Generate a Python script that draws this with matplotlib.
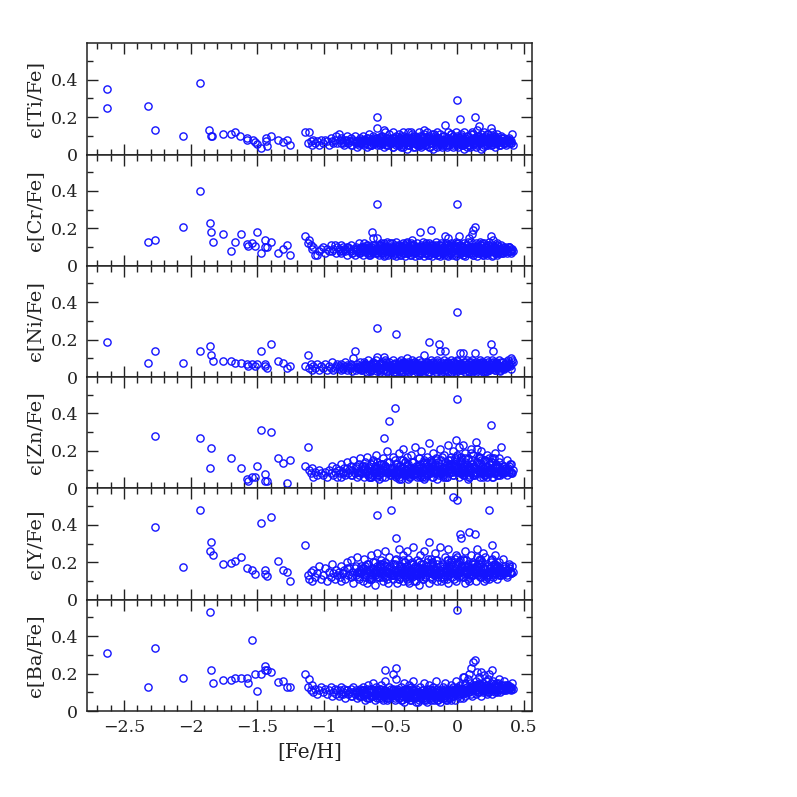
import numpy as np
import matplotlib
matplotlib.use("Agg")
import matplotlib.pyplot as plt
from matplotlib.ticker import MultipleLocator, FixedLocator, FixedFormatter

plt.rcParams['font.family'] = ['DejaVu Serif']

# ---------------- data ----------------
panel_labels = ["ϵ[Ti/Fe]", "ϵ[Cr/Fe]", "ϵ[Ni/Fe]", "ϵ[Zn/Fe]", "ϵ[Y/Fe]", "ϵ[Ba/Fe]"]
xtick_vals = [-2.5, -2.0, -1.5, -1.0, -0.5, 0.0, 0.5]
xtick_labels = ["\u22122.5", "\u22122", "\u22121.5", "\u22121", "\u22120.5", "0", "0.5"]
ytick_vals = [0.0, 0.2, 0.4]
ytick_labels = ["0", "0.2", "0.4"]

# metal-rich (dense) stars, shared [Fe/H]
feh_dense = [
    -1.14,-1.12,-1.11,-1.10,-1.09,-1.08,-1.07,-1.05,-1.04,-1.02,
    -1.01,-0.99,-0.98,-0.96,-0.95,-0.94,-0.93,-0.92,-0.91,-0.90,
    -0.89,-0.88,-0.87,-0.87,-0.86,-0.85,-0.84,-0.83,-0.82,-0.81,
    -0.80,-0.80,-0.79,-0.78,-0.77,-0.76,-0.75,-0.74,-0.73,-0.73,
    -0.72,-0.71,-0.70,-0.70,-0.69,-0.68,-0.68,-0.67,-0.66,-0.65,
    -0.65,-0.64,-0.63,-0.62,-0.62,-0.61,-0.60,-0.60,-0.59,-0.58,
    -0.57,-0.57,-0.56,-0.55,-0.54,-0.54,-0.53,-0.52,-0.51,-0.51,
    -0.50,-0.49,-0.48,-0.48,-0.47,-0.46,-0.46,-0.45,-0.44,-0.44,
    -0.43,-0.42,-0.42,-0.41,-0.41,-0.40,-0.40,-0.39,-0.38,-0.38,
    -0.37,-0.37,-0.36,-0.35,-0.35,-0.34,-0.33,-0.33,-0.32,-0.31,
    -0.31,-0.30,-0.29,-0.29,-0.28,-0.27,-0.27,-0.26,-0.25,-0.25,
    -0.24,-0.23,-0.23,-0.22,-0.21,-0.21,-0.20,-0.19,-0.19,-0.18,
    -0.17,-0.17,-0.16,-0.15,-0.15,-0.14,-0.13,-0.13,-0.12,-0.11,
    -0.11,-0.10,-0.09,-0.09,-0.08,-0.07,-0.07,-0.06,-0.05,-0.05,
    -0.04,-0.03,-0.03,-0.02,-0.01,-0.01, 0.00, 0.00, 0.01, 0.02,
     0.02, 0.03, 0.04, 0.04, 0.05, 0.06, 0.06, 0.07, 0.08, 0.08,
     0.09, 0.10, 0.10, 0.11, 0.12, 0.12, 0.13, 0.14, 0.14, 0.15,
     0.16, 0.16, 0.17, 0.18, 0.18, 0.19, 0.20, 0.20, 0.21, 0.22,
     0.22, 0.23, 0.24, 0.24, 0.25, 0.26, 0.26, 0.27, 0.28, 0.28,
     0.29, 0.30, 0.30, 0.31, 0.32, 0.33, 0.34, 0.35, 0.36, 0.37,
     0.38, 0.39, 0.40, 0.41, 0.42, 0.05,-0.25,-0.55, 0.15,-0.35,
]
# second batch of dense-core stars
feh_core = [
    -0.755,-0.735,-0.715,-0.695,-0.675,-0.655,-0.645,-0.635,-0.615,-0.605,
    -0.585,-0.575,-0.565,-0.545,-0.535,-0.525,-0.505,-0.495,-0.485,-0.475,
    -0.465,-0.455,-0.445,-0.435,-0.425,-0.415,-0.405,-0.395,-0.385,-0.375,
    -0.365,-0.355,-0.345,-0.335,-0.325,-0.315,-0.305,-0.295,-0.285,-0.275,
    -0.265,-0.255,-0.245,-0.235,-0.225,-0.215,-0.205,-0.195,-0.185,-0.175,
    -0.165,-0.155,-0.145,-0.135,-0.125,-0.115,-0.105,-0.095,-0.085,-0.075,
    -0.065,-0.055,-0.045,-0.035,-0.025,-0.015,-0.005, 0.005, 0.015, 0.025,
     0.035, 0.045, 0.055, 0.065, 0.075, 0.085, 0.095, 0.105, 0.115, 0.125,
     0.135, 0.145, 0.155, 0.165, 0.175, 0.185, 0.195, 0.205, 0.215, 0.225,
     0.235, 0.245, 0.255, 0.265, 0.275, 0.285, 0.295, 0.305, 0.315, 0.325,
     0.335, 0.345, 0.355, 0.365, 0.375, 0.385, 0.395, 0.405,-0.30,-0.10,
    -0.62,-0.52,-0.42,-0.32,-0.22,-0.12,-0.02, 0.08, 0.18, 0.28,
    -0.58,-0.48,-0.38,-0.28,-0.18,-0.08, 0.03, 0.13, 0.23, 0.33,
    -0.66,-0.56,-0.46,-0.36,-0.26,-0.16,-0.06, 0.04, 0.14, 0.24,
    -0.50,-0.40,-0.30,-0.20,-0.10, 0.00, 0.10, 0.20, 0.30, 0.36,
]
# third batch
feh_extra = [
    -0.72,-0.69,-0.66,-0.63,-0.61,-0.59,-0.56,-0.53,-0.50,-0.47,
    -0.45,-0.43,-0.40,-0.37,-0.34,-0.32,-0.29,-0.26,-0.24,-0.21,
    -0.18,-0.16,-0.13,-0.10,-0.08,-0.05,-0.02, 0.01, 0.03, 0.06,
     0.09, 0.11, 0.14, 0.17, 0.19, 0.22, 0.25, 0.27, 0.30, 0.33,
    -0.70,-0.64,-0.57,-0.51,-0.44,-0.38,-0.31,-0.23,-0.17,-0.11,
    -0.04, 0.02, 0.07, 0.12, 0.16, 0.21, 0.26, 0.31, 0.35, 0.39,
    -0.68,-0.60,-0.54,-0.46,-0.39,-0.33,-0.27,-0.20,-0.14,-0.07,
    -0.01, 0.04, 0.09, 0.13, 0.18, 0.23, 0.28, 0.32, 0.37, 0.40,
    -0.86,-0.83,-0.79,-0.76,-0.74,-0.71,-0.65,-0.58,-0.49,-0.41,
    -0.35,-0.28,-0.19,-0.12,-0.06, 0.00, 0.05, 0.11, 0.20, 0.29,
]

ti_dense = [
    0.12,0.06,0.12,0.07,0.05,0.08,0.06,0.07,0.05,0.08,
    0.06,0.08,0.07,0.05,0.09,0.07,0.06,0.08,0.10,0.06,
    0.11,0.08,0.06,0.09,0.07,0.05,0.08,0.10,0.06,0.07,
    0.09,0.05,0.07,0.08,0.10,0.06,0.04,0.08,0.09,0.06,
    0.07,0.10,0.05,0.08,0.06,0.09,0.04,0.07,0.11,0.08,
    0.05,0.07,0.10,0.06,0.08,0.09,0.20,0.14,0.07,0.05,
    0.08,0.10,0.06,0.04,0.12,0.07,0.09,0.05,0.08,0.11,
    0.06,0.09,0.04,0.12,0.07,0.10,0.05,0.08,0.06,0.11,
    0.09,0.04,0.07,0.12,0.05,0.08,0.10,0.06,0.03,0.09,
    0.07,0.12,0.05,0.09,0.06,0.11,0.04,0.08,0.10,0.06,
    0.08,0.05,0.12,0.07,0.10,0.04,0.09,0.06,0.11,0.07,
    0.05,0.09,0.12,0.07,0.04,0.10,0.08,0.06,0.11,0.03,
    0.08,0.10,0.06,0.12,0.04,0.09,0.07,0.11,0.05,0.08,
    0.06,0.10,0.16,0.07,0.04,0.09,0.12,0.05,0.08,0.11,
    0.07,0.04,0.10,0.06,0.09,0.12,0.29,0.05,0.08,0.19,
    0.07,0.11,0.05,0.09,0.12,0.06,0.08,0.04,0.10,0.07,
    0.05,0.11,0.08,0.12,0.06,0.09,0.20,0.07,0.04,0.10,
    0.15,0.08,0.06,0.11,0.03,0.09,0.12,0.07,0.10,0.05,
    0.08,0.11,0.06,0.09,0.14,0.12,0.05,0.10,0.07,0.04,
    0.09,0.06,0.11,0.08,0.05,0.10,0.07,0.09,0.06,0.08,
    0.07,0.09,0.06,0.11,0.05,0.03,0.13,0.13,0.13,0.12,
]
ti_core = [
    0.07,0.05,0.08,0.06,0.09,0.07,0.05,0.08,0.06,0.09,
    0.08,0.06,0.10,0.07,0.05,0.09,0.06,0.08,0.04,0.07,
    0.09,0.06,0.08,0.05,0.10,0.07,0.04,0.08,0.06,0.09,
    0.05,0.08,0.07,0.10,0.06,0.04,0.09,0.07,0.05,0.08,
    0.10,0.06,0.08,0.05,0.07,0.09,0.04,0.06,0.08,0.11,
    0.07,0.05,0.09,0.06,0.08,0.04,0.10,0.07,0.05,0.09,
    0.06,0.08,0.11,0.05,0.07,0.09,0.06,0.04,0.08,0.10,
    0.05,0.07,0.09,0.06,0.10,0.08,0.04,0.07,0.11,0.06,
    0.09,0.05,0.07,0.10,0.06,0.08,0.04,0.09,0.07,0.11,
    0.06,0.08,0.05,0.09,0.07,0.10,0.06,0.08,0.05,0.07,
    0.09,0.06,0.08,0.05,0.07,0.06,0.08,0.07,0.08,0.07,
    0.07,0.08,0.06,0.09,0.07,0.06,0.08,0.07,0.09,0.06,
    0.06,0.07,0.09,0.06,0.08,0.07,0.06,0.08,0.07,0.09,
    0.08,0.06,0.07,0.08,0.06,0.09,0.07,0.05,0.08,0.07,
    0.07,0.09,0.06,0.08,0.07,0.06,0.08,0.09,0.07,0.06,
]
ti_extra = [
    0.06,0.08,0.05,0.09,0.07,0.06,0.08,0.05,0.07,0.09,
    0.06,0.08,0.07,0.05,0.09,0.06,0.08,0.07,0.05,0.08,
    0.07,0.09,0.06,0.08,0.05,0.07,0.09,0.06,0.08,0.07,
    0.05,0.08,0.06,0.09,0.07,0.05,0.08,0.06,0.09,0.07,
    0.08,0.06,0.09,0.07,0.05,0.08,0.06,0.09,0.07,0.05,
    0.06,0.09,0.07,0.05,0.08,0.06,0.09,0.07,0.06,0.08,
    0.07,0.05,0.08,0.06,0.09,0.07,0.05,0.08,0.06,0.09,
    0.08,0.06,0.05,0.07,0.09,0.06,0.08,0.05,0.07,0.06,
    0.06,0.08,0.05,0.07,0.06,0.08,0.05,0.09,0.06,0.08,
    0.07,0.05,0.09,0.06,0.08,0.10,0.06,0.08,0.05,0.07,
]
cr_dense = [
    0.16,0.12,0.14,0.11,0.09,0.10,0.06,0.06,0.08,0.09,
    0.10,0.07,0.09,0.08,0.11,0.08,0.09,0.11,0.07,0.10,
    0.09,0.08,0.11,0.07,0.10,0.09,0.08,0.06,0.10,0.09,
    0.08,0.11,0.07,0.09,0.06,0.10,0.08,0.12,0.07,0.09,
    0.10,0.06,0.09,0.12,0.08,0.07,0.11,0.09,0.06,0.10,
    0.08,0.18,0.15,0.07,0.11,0.09,0.33,0.15,0.06,0.10,
    0.12,0.07,0.09,0.05,0.11,0.08,0.13,0.06,0.10,0.08,
    0.09,0.12,0.06,0.10,0.07,0.13,0.05,0.09,0.11,0.08,
    0.06,0.10,0.08,0.12,0.07,0.09,0.11,0.05,0.13,0.08,
    0.10,0.07,0.09,0.12,0.06,0.14,0.08,0.11,0.05,0.10,
    0.08,0.12,0.06,0.09,0.18,0.10,0.07,0.13,0.05,0.09,
    0.11,0.07,0.10,0.06,0.12,0.08,0.19,0.09,0.05,0.11,
    0.07,0.10,0.13,0.06,0.09,0.11,0.05,0.08,0.12,0.07,
    0.09,0.06,0.16,0.11,0.08,0.15,0.05,0.10,0.07,0.12,
    0.06,0.09,0.11,0.07,0.13,0.05,0.10,0.33,0.16,0.08,
    0.11,0.07,0.10,0.06,0.12,0.09,0.05,0.11,0.08,0.13,
    0.15,0.07,0.10,0.17,0.06,0.19,0.21,0.09,0.12,0.05,
    0.10,0.07,0.13,0.08,0.11,0.06,0.09,0.12,0.07,0.10,
    0.06,0.11,0.09,0.13,0.16,0.08,0.05,0.14,0.10,0.07,
    0.09,0.12,0.06,0.10,0.08,0.11,0.07,0.09,0.10,0.08,
    0.08,0.10,0.07,0.09,0.08,0.10,0.08,0.12,0.09,0.11,
]
cr_core = [
    0.09,0.07,0.10,0.08,0.11,0.06,0.09,0.08,0.10,0.07,
    0.11,0.08,0.09,0.06,0.10,0.08,0.12,0.07,0.09,0.10,
    0.07,0.10,0.08,0.11,0.06,0.09,0.10,0.07,0.12,0.08,
    0.10,0.06,0.09,0.08,0.11,0.07,0.10,0.09,0.06,0.11,
    0.08,0.10,0.07,0.12,0.09,0.06,0.08,0.11,0.07,0.09,
    0.10,0.08,0.06,0.09,0.11,0.07,0.10,0.08,0.12,0.06,
    0.09,0.11,0.07,0.08,0.10,0.06,0.09,0.12,0.08,0.07,
    0.10,0.06,0.09,0.11,0.07,0.08,0.10,0.13,0.06,0.09,
    0.08,0.11,0.07,0.10,0.09,0.12,0.06,0.08,0.10,0.07,
    0.11,0.08,0.09,0.06,0.10,0.08,0.11,0.07,0.09,0.08,
    0.07,0.10,0.08,0.09,0.07,0.10,0.08,0.09,0.09,0.08,
    0.08,0.09,0.10,0.07,0.09,0.08,0.10,0.09,0.07,0.10,
    0.09,0.08,0.07,0.10,0.08,0.09,0.07,0.10,0.08,0.09,
    0.10,0.07,0.09,0.08,0.10,0.07,0.09,0.08,0.10,0.08,
    0.08,0.10,0.09,0.07,0.08,0.10,0.09,0.08,0.07,0.09,
]
cr_extra = [
    0.08,0.10,0.07,0.11,0.09,0.08,0.10,0.07,0.09,0.11,
    0.08,0.10,0.09,0.07,0.11,0.08,0.10,0.09,0.07,0.10,
    0.09,0.11,0.08,0.10,0.07,0.09,0.11,0.08,0.10,0.09,
    0.07,0.10,0.08,0.11,0.09,0.07,0.10,0.08,0.11,0.09,
    0.10,0.08,0.11,0.09,0.07,0.10,0.08,0.11,0.09,0.07,
    0.08,0.11,0.09,0.07,0.10,0.08,0.11,0.09,0.08,0.10,
    0.09,0.07,0.10,0.08,0.11,0.09,0.07,0.10,0.08,0.11,
    0.10,0.08,0.07,0.09,0.11,0.08,0.10,0.07,0.09,0.08,
    0.08,0.10,0.07,0.09,0.08,0.10,0.07,0.11,0.08,0.10,
    0.09,0.07,0.11,0.08,0.10,0.12,0.08,0.10,0.07,0.09,
]
ni_dense = [
    0.06,0.12,0.05,0.07,0.04,0.06,0.05,0.07,0.04,0.06,
    0.05,0.07,0.04,0.06,0.05,0.08,0.04,0.05,0.06,0.07,
    0.05,0.06,0.04,0.07,0.05,0.06,0.08,0.04,0.05,0.06,
    0.07,0.05,0.06,0.10,0.14,0.04,0.07,0.05,0.08,0.06,
    0.04,0.06,0.08,0.05,0.07,0.03,0.06,0.09,0.05,0.07,
    0.04,0.06,0.08,0.05,0.07,0.09,0.26,0.11,0.05,0.03,
    0.07,0.05,0.08,0.04,0.06,0.09,0.03,0.07,0.05,0.08,
    0.06,0.04,0.09,0.05,0.07,0.23,0.03,0.06,0.08,0.05,
    0.07,0.04,0.09,0.06,0.03,0.08,0.05,0.07,0.10,0.04,
    0.06,0.08,0.03,0.07,0.05,0.09,0.04,0.06,0.08,0.05,
    0.07,0.04,0.09,0.06,0.03,0.08,0.05,0.07,0.04,0.12,
    0.05,0.08,0.06,0.03,0.07,0.19,0.09,0.04,0.06,0.08,
    0.05,0.07,0.03,0.09,0.06,0.175,0.14,0.04,0.08,0.05,
    0.07,0.09,0.14,0.04,0.06,0.08,0.03,0.07,0.05,0.09,
    0.06,0.04,0.08,0.05,0.07,0.03,0.09,0.35,0.06,0.13,
    0.04,0.07,0.13,0.05,0.08,0.06,0.03,0.09,0.05,0.07,
    0.08,0.04,0.06,0.09,0.05,0.07,0.13,0.03,0.08,0.06,
    0.07,0.05,0.09,0.04,0.06,0.08,0.05,0.07,0.03,0.09,
    0.06,0.08,0.04,0.07,0.175,0.05,0.09,0.14,0.06,0.04,
    0.08,0.05,0.07,0.09,0.04,0.06,0.08,0.05,0.07,0.06,
    0.09,0.07,0.10,0.09,0.08,0.05,0.06,0.11,0.07,0.06,
]
ni_core = [
    0.05,0.06,0.04,0.07,0.05,0.06,0.04,0.07,0.05,0.06,
    0.04,0.07,0.05,0.06,0.08,0.04,0.06,0.05,0.07,0.03,
    0.06,0.04,0.07,0.05,0.03,0.06,0.08,0.05,0.04,0.07,
    0.05,0.07,0.04,0.06,0.08,0.05,0.03,0.06,0.07,0.04,
    0.06,0.04,0.07,0.05,0.08,0.03,0.06,0.05,0.07,0.04,
    0.05,0.08,0.04,0.06,0.03,0.07,0.05,0.06,0.04,0.08,
    0.07,0.05,0.03,0.06,0.08,0.04,0.06,0.05,0.07,0.04,
    0.06,0.04,0.08,0.05,0.07,0.03,0.06,0.08,0.05,0.04,
    0.07,0.05,0.06,0.04,0.08,0.06,0.03,0.07,0.05,0.06,
    0.04,0.07,0.05,0.08,0.06,0.04,0.07,0.05,0.06,0.08,
    0.06,0.05,0.07,0.06,0.08,0.07,0.06,0.07,0.05,0.06,
    0.05,0.06,0.04,0.05,0.06,0.05,0.04,0.06,0.05,0.07,
    0.04,0.05,0.06,0.04,0.05,0.06,0.05,0.04,0.06,0.05,
    0.06,0.04,0.05,0.06,0.04,0.05,0.06,0.05,0.04,0.06,
    0.05,0.06,0.04,0.05,0.06,0.04,0.05,0.06,0.05,0.07,
]
ni_extra = [
    0.045,0.065,0.035,0.075,0.055,0.045,0.065,0.035,0.055,0.075,
    0.045,0.065,0.055,0.035,0.075,0.045,0.065,0.055,0.035,0.065,
    0.055,0.075,0.045,0.065,0.035,0.055,0.075,0.045,0.065,0.055,
    0.035,0.065,0.045,0.075,0.055,0.035,0.065,0.045,0.075,0.055,
    0.065,0.045,0.075,0.055,0.035,0.065,0.045,0.075,0.055,0.035,
    0.045,0.075,0.055,0.035,0.065,0.045,0.075,0.055,0.045,0.065,
    0.055,0.035,0.065,0.045,0.075,0.055,0.035,0.065,0.045,0.075,
    0.065,0.045,0.035,0.055,0.075,0.045,0.065,0.035,0.055,0.045,
    0.045,0.065,0.035,0.055,0.045,0.065,0.035,0.075,0.045,0.065,
    0.055,0.035,0.075,0.045,0.065,0.085,0.045,0.065,0.035,0.055,
]
zn_dense = [
    0.12,0.22,0.10,0.08,0.11,0.06,0.09,0.07,0.10,0.08,
    0.07,0.09,0.06,0.10,0.08,0.12,0.07,0.09,0.11,0.06,
    0.10,0.08,0.13,0.06,0.09,0.11,0.07,0.14,0.08,0.10,
    0.12,0.07,0.10,0.15,0.08,0.11,0.06,0.13,0.09,0.16,
    0.08,0.12,0.06,0.10,0.14,0.09,0.17,0.07,0.11,0.13,
    0.06,0.10,0.15,0.08,0.12,0.18,0.09,0.14,0.05,0.11,
    0.13,0.08,0.16,0.10,0.06,0.12,0.20,0.09,0.36,0.14,
    0.07,0.11,0.17,0.09,0.43,0.13,0.06,0.10,0.19,0.08,
    0.12,0.05,0.15,0.09,0.21,0.11,0.07,0.14,0.10,0.17,
    0.08,0.13,0.06,0.11,0.18,0.09,0.14,0.07,0.22,0.10,
    0.12,0.06,0.16,0.09,0.13,0.20,0.08,0.11,0.05,0.15,
    0.10,0.17,0.07,0.12,0.24,0.09,0.14,0.06,0.11,0.19,
    0.08,0.13,0.16,0.10,0.05,0.12,0.21,0.09,0.15,0.07,
    0.11,0.18,0.08,0.14,0.06,0.23,0.10,0.13,0.17,0.09,
    0.12,0.07,0.20,0.10,0.15,0.26,0.48,0.09,0.22,0.13,
    0.08,0.17,0.11,0.23,0.07,0.14,0.19,0.10,0.05,0.16,
    0.12,0.21,0.09,0.15,0.07,0.18,0.11,0.25,0.08,0.14,
    0.10,0.17,0.06,0.13,0.20,0.09,0.15,0.11,0.07,0.18,
    0.12,0.08,0.16,0.10,0.34,0.14,0.06,0.11,0.19,0.09,
    0.13,0.07,0.11,0.16,0.09,0.22,0.08,0.12,0.10,0.15,
    0.11,0.09,0.13,0.08,0.10,0.12,0.14,0.27,0.21,0.10,
]
zn_core = [
    0.09,0.07,0.12,0.08,0.10,0.06,0.13,0.09,0.11,0.07,
    0.10,0.08,0.06,0.12,0.09,0.14,0.07,0.10,0.08,0.11,
    0.07,0.13,0.09,0.06,0.11,0.08,0.15,0.10,0.07,0.12,
    0.09,0.06,0.11,0.14,0.08,0.10,0.07,0.12,0.16,0.09,
    0.06,0.10,0.08,0.13,0.07,0.11,0.09,0.15,0.06,0.10,
    0.12,0.08,0.14,0.07,0.10,0.17,0.09,0.06,0.11,0.13,
    0.08,0.15,0.10,0.07,0.12,0.09,0.18,0.11,0.06,0.14,
    0.10,0.07,0.16,0.09,0.13,0.06,0.11,0.19,0.08,0.12,
    0.07,0.14,0.10,0.17,0.08,0.12,0.06,0.15,0.09,0.11,
    0.13,0.08,0.11,0.06,0.16,0.09,0.12,0.07,0.14,0.10,
    0.08,0.12,0.09,0.11,0.07,0.10,0.13,0.09,0.08,0.11,
    0.09,0.08,0.11,0.10,0.08,0.09,0.12,0.10,0.09,0.08,
    0.10,0.09,0.08,0.11,0.09,0.10,0.08,0.11,0.10,0.09,
    0.08,0.10,0.09,0.07,0.10,0.08,0.11,0.09,0.08,0.10,
    0.11,0.09,0.10,0.08,0.09,0.12,0.10,0.08,0.09,0.11,
]
zn_extra = [
    0.08,0.12,0.06,0.14,0.10,0.07,0.13,0.09,0.11,0.15,
    0.07,0.12,0.10,0.05,0.14,0.08,0.11,0.13,0.06,0.10,
    0.12,0.15,0.08,0.11,0.06,0.13,0.16,0.09,0.12,0.10,
    0.07,0.13,0.09,0.16,0.11,0.06,0.14,0.08,0.12,0.10,
    0.11,0.07,0.13,0.09,0.05,0.12,0.08,0.14,0.10,0.06,
    0.09,0.15,0.12,0.07,0.13,0.10,0.16,0.11,0.08,0.12,
    0.10,0.06,0.12,0.08,0.14,0.11,0.07,0.13,0.09,0.15,
    0.13,0.08,0.06,0.11,0.15,0.09,0.12,0.07,0.10,0.08,
    0.08,0.11,0.07,0.12,0.09,0.10,0.06,0.13,0.08,0.11,
    0.09,0.06,0.14,0.08,0.12,0.17,0.10,0.13,0.07,0.11,
]
y_dense = [
    0.29,0.13,0.11,0.15,0.10,0.16,0.12,0.14,0.18,0.11,
    0.13,0.17,0.10,0.15,0.12,0.19,0.14,0.11,0.16,0.13,
    0.15,0.12,0.18,0.10,0.14,0.16,0.11,0.20,0.13,0.17,
    0.12,0.21,0.15,0.09,0.17,0.13,0.23,0.11,0.16,0.14,
    0.18,0.10,0.14,0.22,0.12,0.16,0.09,0.19,0.13,0.24,
    0.11,0.17,0.14,0.20,0.08,0.15,0.45,0.25,0.12,0.18,
    0.14,0.21,0.10,0.16,0.26,0.12,0.18,0.09,0.15,0.23,
    0.48,0.13,0.19,0.11,0.16,0.33,0.22,0.09,0.14,0.27,
    0.12,0.18,0.15,0.24,0.10,0.20,0.13,0.17,0.26,0.11,
    0.16,0.22,0.09,0.14,0.19,0.12,0.28,0.15,0.18,0.10,
    0.13,0.21,0.17,0.08,0.24,0.14,0.19,0.11,0.16,0.26,
    0.12,0.18,0.15,0.22,0.09,0.31,0.14,0.20,0.11,0.17,
    0.25,0.13,0.16,0.10,0.21,0.14,0.18,0.28,0.12,0.15,
    0.19,0.11,0.23,0.16,0.13,0.27,0.09,0.17,0.14,0.21,
    0.12,0.55,0.18,0.15,0.10,0.24,0.53,0.14,0.20,0.35,
    0.16,0.33,0.12,0.22,0.18,0.09,0.26,0.14,0.19,0.11,
    0.36,0.17,0.24,0.13,0.20,0.15,0.35,0.10,0.18,0.27,
    0.14,0.21,0.12,0.19,0.16,0.25,0.10,0.17,0.23,0.13,
    0.18,0.15,0.48,0.11,0.21,0.16,0.29,0.13,0.19,0.24,
    0.14,0.18,0.11,0.20,0.16,0.13,0.22,0.15,0.17,0.12,
    0.16,0.19,0.14,0.18,0.15,0.21,0.17,0.13,0.23,0.16,
]
y_core = [
    0.15,0.12,0.17,0.13,0.19,0.14,0.11,0.16,0.13,0.18,
    0.14,0.17,0.12,0.20,0.15,0.11,0.18,0.14,0.16,0.13,
    0.19,0.13,0.16,0.11,0.17,0.14,0.21,0.12,0.15,0.18,
    0.12,0.16,0.14,0.19,0.10,0.17,0.13,0.15,0.20,0.14,
    0.17,0.11,0.15,0.13,0.18,0.14,0.12,0.22,0.16,0.13,
    0.14,0.19,0.12,0.16,0.10,0.18,0.15,0.13,0.17,0.21,
    0.13,0.16,0.20,0.14,0.11,0.17,0.15,0.19,0.12,0.16,
    0.18,0.12,0.15,0.21,0.14,0.10,0.17,0.13,0.16,0.19,
    0.15,0.18,0.13,0.16,0.12,0.20,0.14,0.17,0.11,0.15,
    0.13,0.17,0.15,0.12,0.19,0.14,0.16,0.18,0.13,0.15,
    0.16,0.14,0.18,0.15,0.13,0.17,0.15,0.14,0.16,0.15,
    0.14,0.15,0.16,0.13,0.15,0.14,0.16,0.15,0.14,0.17,
    0.15,0.13,0.14,0.16,0.14,0.15,0.13,0.16,0.15,0.14,
    0.16,0.14,0.15,0.13,0.16,0.14,0.15,0.17,0.14,0.15,
    0.13,0.15,0.14,0.16,0.15,0.13,0.16,0.14,0.15,0.14,
]
y_extra = [
    0.14,0.18,0.11,0.20,0.16,0.12,0.19,0.15,0.17,0.21,
    0.13,0.18,0.16,0.10,0.20,0.14,0.17,0.19,0.12,0.16,
    0.18,0.21,0.14,0.17,0.11,0.19,0.22,0.15,0.18,0.16,
    0.13,0.19,0.15,0.22,0.17,0.12,0.20,0.14,0.18,0.16,
    0.17,0.13,0.19,0.15,0.11,0.18,0.14,0.20,0.16,0.12,
    0.15,0.21,0.18,0.13,0.19,0.16,0.22,0.17,0.14,0.18,
    0.16,0.12,0.18,0.14,0.20,0.17,0.13,0.19,0.15,0.21,
    0.19,0.14,0.12,0.17,0.21,0.15,0.18,0.13,0.16,0.14,
    0.14,0.17,0.13,0.18,0.15,0.16,0.12,0.19,0.14,0.17,
    0.15,0.12,0.20,0.14,0.18,0.23,0.16,0.19,0.13,0.17,
]
ba_dense = [
    0.20,0.13,0.17,0.11,0.14,0.10,0.12,0.09,0.11,0.13,
    0.10,0.12,0.09,0.11,0.13,0.08,0.10,0.12,0.09,0.11,
    0.08,0.11,0.13,0.09,0.10,0.12,0.07,0.11,0.09,0.10,
    0.12,0.08,0.10,0.13,0.09,0.11,0.07,0.10,0.12,0.08,
    0.10,0.13,0.08,0.11,0.06,0.12,0.09,0.14,0.07,0.10,
    0.12,0.08,0.15,0.10,0.06,0.13,0.09,0.11,0.07,0.12,
    0.09,0.14,0.06,0.11,0.22,0.16,0.10,0.07,0.13,0.09,
    0.12,0.08,0.20,0.11,0.06,0.23,0.17,0.12,0.07,0.10,
    0.10,0.06,0.13,0.08,0.11,0.15,0.05,0.09,0.12,0.07,
    0.11,0.08,0.14,0.06,0.10,0.12,0.07,0.16,0.09,0.05,
    0.12,0.08,0.10,0.06,0.13,0.09,0.07,0.11,0.15,0.06,
    0.09,0.12,0.05,0.10,0.08,0.14,0.06,0.11,0.09,0.13,
    0.07,0.10,0.16,0.06,0.12,0.08,0.11,0.05,0.09,0.13,
    0.10,0.07,0.12,0.15,0.06,0.09,0.11,0.08,0.14,0.06,
    0.11,0.08,0.13,0.06,0.10,0.16,0.54,0.09,0.12,0.07,
    0.14,0.09,0.18,0.07,0.11,0.15,0.08,0.12,0.17,0.10,
    0.20,0.13,0.23,0.08,0.26,0.11,0.27,0.16,0.09,0.14,
    0.18,0.10,0.13,0.21,0.08,0.15,0.11,0.19,0.12,0.09,
    0.14,0.17,0.10,0.20,0.12,0.22,0.09,0.16,0.13,0.11,
    0.15,0.10,0.13,0.17,0.12,0.14,0.11,0.16,0.13,0.12,
    0.14,0.12,0.13,0.15,0.12,0.18,0.10,0.08,0.21,0.13,
]
ba_core = [
    0.10,0.08,0.11,0.09,0.07,0.10,0.12,0.08,0.09,0.11,
    0.08,0.10,0.07,0.11,0.09,0.06,0.10,0.08,0.12,0.09,
    0.07,0.09,0.11,0.08,0.10,0.06,0.09,0.12,0.07,0.10,
    0.09,0.06,0.10,0.08,0.11,0.07,0.09,0.05,0.10,0.08,
    0.11,0.07,0.09,0.06,0.10,0.08,0.12,0.07,0.09,0.06,
    0.08,0.10,0.06,0.09,0.07,0.11,0.08,0.10,0.06,0.09,
    0.10,0.07,0.12,0.08,0.11,0.09,0.13,0.08,0.11,0.10,
    0.12,0.09,0.14,0.10,0.13,0.11,0.15,0.09,0.12,0.14,
    0.11,0.13,0.10,0.15,0.12,0.14,0.10,0.13,0.16,0.11,
    0.13,0.11,0.15,0.12,0.14,0.10,0.13,0.15,0.11,0.12,
    0.14,0.12,0.13,0.11,0.14,0.12,0.13,0.12,0.08,0.10,
    0.09,0.08,0.10,0.08,0.09,0.10,0.11,0.12,0.13,0.12,
    0.10,0.09,0.08,0.09,0.08,0.10,0.12,0.13,0.12,0.13,
    0.11,0.09,0.10,0.08,0.09,0.08,0.11,0.12,0.14,0.13,
    0.08,0.09,0.10,0.09,0.10,0.11,0.13,0.12,0.13,0.14,
]
ba_extra = [
    0.08,0.10,0.07,0.11,0.09,0.08,0.10,0.07,0.09,0.11,
    0.08,0.10,0.09,0.07,0.11,0.08,0.10,0.09,0.07,0.10,
    0.09,0.11,0.08,0.10,0.07,0.09,0.11,0.10,0.12,0.11,
    0.10,0.13,0.11,0.14,0.12,0.10,0.13,0.11,0.14,0.12,
    0.10,0.08,0.11,0.09,0.07,0.10,0.08,0.11,0.09,0.07,
    0.10,0.12,0.11,0.13,0.14,0.11,0.13,0.12,0.11,0.13,
    0.09,0.07,0.10,0.08,0.11,0.09,0.07,0.10,0.08,0.11,
    0.11,0.10,0.12,0.11,0.14,0.12,0.13,0.10,0.12,0.11,
    0.09,0.11,0.08,0.10,0.09,0.11,0.08,0.12,0.09,0.10,
    0.09,0.07,0.11,0.08,0.10,0.12,0.10,0.12,0.11,0.13,
]

# metal-poor stars, per panel
ti_poor_x = [-2.63,-2.63,-2.32,-2.27,-2.06,-1.93,-1.86,-1.85,-1.84,-1.76,-1.70,-1.67,-1.63,-1.58,-1.58,-1.53,-1.52,-1.50,-1.47,-1.435,-1.435,-1.425,-1.395,-1.345,-1.305,-1.275,-1.255]
ti_poor_y = [0.35,0.25,0.26,0.13,0.098,0.38,0.13,0.10,0.10,0.108,0.108,0.12,0.10,0.09,0.076,0.076,0.067,0.059,0.037,0.09,0.07,0.048,0.098,0.08,0.067,0.08,0.05]
cr_poor_x = [-2.32,-2.27,-2.06,-1.93,-1.855,-1.85,-1.83,-1.755,-1.70,-1.67,-1.625,-1.58,-1.57,-1.54,-1.515,-1.505,-1.47,-1.44,-1.44,-1.43,-1.40,-1.345,-1.305,-1.275,-1.255]
cr_poor_y = [0.13,0.14,0.21,0.40,0.23,0.18,0.13,0.17,0.08,0.13,0.17,0.115,0.105,0.12,0.105,0.18,0.07,0.14,0.10,0.10,0.13,0.07,0.09,0.11,0.058]
ni_poor_x = [-2.63,-2.32,-2.27,-2.06,-1.93,-1.855,-1.85,-1.83,-1.755,-1.70,-1.67,-1.625,-1.58,-1.57,-1.54,-1.515,-1.505,-1.47,-1.44,-1.44,-1.43,-1.40,-1.345,-1.305,-1.275,-1.255]
ni_poor_y = [0.19,0.078,0.138,0.078,0.138,0.168,0.118,0.088,0.088,0.088,0.078,0.078,0.07,0.06,0.07,0.06,0.07,0.138,0.07,0.06,0.05,0.178,0.088,0.078,0.05,0.06]
zn_poor_x = [-2.27,-1.93,-1.855,-1.85,-1.70,-1.625,-1.58,-1.57,-1.54,-1.515,-1.505,-1.47,-1.44,-1.44,-1.43,-1.40,-1.345,-1.305,-1.275,-1.255]
zn_poor_y = [0.278,0.27,0.108,0.218,0.16,0.108,0.05,0.04,0.06,0.06,0.118,0.31,0.075,0.04,0.04,0.30,0.16,0.138,0.03,0.15]
y_poor_x = [-2.27,-2.06,-1.93,-1.855,-1.85,-1.83,-1.755,-1.70,-1.67,-1.625,-1.58,-1.54,-1.515,-1.47,-1.44,-1.44,-1.43,-1.40,-1.345,-1.305,-1.275,-1.255]
y_poor_y = [0.39,0.177,0.48,0.26,0.31,0.237,0.188,0.198,0.207,0.228,0.168,0.158,0.138,0.41,0.158,0.138,0.128,0.44,0.207,0.158,0.148,0.098]
ba_poor_x = [-2.63,-2.32,-2.27,-2.06,-1.855,-1.85,-1.83,-1.755,-1.70,-1.67,-1.625,-1.58,-1.57,-1.54,-1.515,-1.505,-1.47,-1.44,-1.44,-1.43,-1.40,-1.345,-1.305,-1.275,-1.255]
ba_poor_y = [0.308,0.127,0.338,0.177,0.528,0.218,0.147,0.168,0.168,0.177,0.177,0.177,0.147,0.377,0.198,0.108,0.198,0.238,0.218,0.218,0.208,0.157,0.16,0.13,0.13]

panels = [
    (ti_poor_x, ti_poor_y, ti_dense, ti_core, ti_extra),
    (cr_poor_x, cr_poor_y, cr_dense, cr_core, cr_extra),
    (ni_poor_x, ni_poor_y, ni_dense, ni_core, ni_extra),
    (zn_poor_x, zn_poor_y, zn_dense, zn_core, zn_extra),
    (y_poor_x, y_poor_y, y_dense, y_core, y_extra),
    (ba_poor_x, ba_poor_y, ba_dense, ba_core, ba_extra),
]

# ---------------- plot ----------------
fig = plt.figure(figsize=(7.97, 7.97), dpi=100)
left, right = 86.5 / 797, 532.3 / 797
top, bottom = 1 - 43.3 / 797, 1 - 711.0 / 797
gs = fig.add_gridspec(6, 1, left=left, right=right, top=top, bottom=bottom, hspace=0)

color = '#1414ff'
mk = dict(ls='none', marker='o', mfc='none', mec=color, ms=5.2, mew=1.0)
for i, (px, py, dy, cy, ey) in enumerate(panels):
    ax = fig.add_subplot(gs[i, 0])
    ax.plot(px, py, **mk)
    for fx, fy in ((feh_dense, dy), (feh_core, cy), (feh_extra, ey)):
        n = min(len(fx), len(fy))
        ax.plot(fx[:n], fy[:n], **mk)
    ax.set_xlim(-2.78, 0.562)
    ax.set_ylim(0.0, 0.594)
    ax.xaxis.set_major_locator(FixedLocator(xtick_vals))
    ax.xaxis.set_minor_locator(MultipleLocator(0.1))
    ax.yaxis.set_major_locator(FixedLocator(ytick_vals))
    ax.yaxis.set_major_formatter(FixedFormatter(ytick_labels))
    ax.yaxis.set_minor_locator(MultipleLocator(0.1))
    ax.tick_params(which='both', direction='in', top=True, right=True, width=1.0, color='#222222')
    ax.tick_params(which='major', length=8, labelsize=12.5, pad=6, labelcolor='#222222')
    ax.tick_params(which='minor', length=4.3)
    for s in ax.spines.values():
        s.set_linewidth(1.1)
        s.set_color('#222222')
    ax.set_ylabel(panel_labels[i], fontsize=14, color='#222222')
    ax.yaxis.set_label_coords(-0.095, 0.5)
    if i < 5:
        ax.tick_params(labelbottom=False)
    else:
        ax.xaxis.set_major_formatter(FixedFormatter(xtick_labels))
        ax.set_xlabel("[Fe/H]", fontsize=14.5, labelpad=5, color='#222222')

fig.savefig("out.png", dpi=100)
